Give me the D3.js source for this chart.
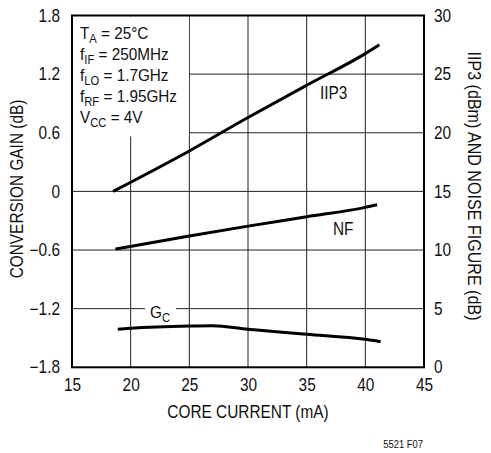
<!DOCTYPE html>
<html>
<head>
<meta charset="utf-8">
<script src="https://cdn.jsdelivr.net/npm/d3@7"></script>
<style>
  body { margin: 0; background: #fff; }
  svg text { font-family: "Liberation Sans", Arial, sans-serif; fill: #111; }
  .grid line { stroke: #222; stroke-width: 1; }
  .curve { fill: none; stroke: #000; stroke-width: 3; stroke-linecap: butt; }
</style>
</head>
<body>
<svg id="chart"></svg>
<script>
// data (core current in mA)
const iip3 = [
  { x: 18.5, y: 15.0 }, { x: 25, y: 18.45 }, { x: 30, y: 21.3 },
  { x: 35, y: 24.05 }, { x: 40, y: 26.75 }, { x: 41.2, y: 27.5 },
];
const noiseFigure = [
  { x: 18.7, y: 10.08 }, { x: 25, y: 11.19 }, { x: 30, y: 12.04 },
  { x: 35, y: 12.84 }, { x: 40, y: 13.64 }, { x: 41.0, y: 13.86 },
];
// conversion gain, left axis (dB)
const convGain = [
  { x: 18.9, y: -1.411 }, { x: 20, y: -1.401 }, { x: 25, y: -1.378 },
  { x: 27, y: -1.375 }, { x: 30, y: -1.411 }, { x: 35, y: -1.462 },
  { x: 40, y: -1.514 }, { x: 41.3, y: -1.538 },
];

const xTicks = [15, 20, 25, 30, 35, 40, 45];
const leftTicks = [1.8, 1.2, 0.6, 0, -0.6, -1.2, -1.8];
const leftLabels = ['1.8', '1.2', '0.6', '0', '\u22120.6', '\u22121.2', '\u22121.8'];
const rightTicks = [30, 25, 20, 15, 10, 5, 0];

const conditions = [
  ['T', 'A', ' = 25°C'],
  ['f', 'IF', ' = 250MHz'],
  ['f', 'LO', ' = 1.7GHz'],
  ['f', 'RF', ' = 1.95GHz'],
  ['V', 'CC', ' = 4V'],
];

const width = 491;
const height = 453;
const plot = { left: 72, right: 424, top: 15.5, bottom: 367.3 };
const fs = 17.5;      // main font size
const sq = 0.88;      // horizontal squeeze to mimic the narrow face

const svg = d3.select('#chart').attr('width', width).attr('height', height);

// text helper: narrow text placed by transform
function label(x, y, str, opts = {}) {
  const rot = opts.rotate ? ` rotate(${opts.rotate})` : '';
  return svg.append('text')
    .attr('transform', `translate(${x},${y})${rot} scale(${opts.sq || sq},1)`)
    .attr('text-anchor', opts.anchor || 'start')
    .attr('font-size', opts.size || fs)
    .text(str);
}

const xScale = d3.scaleLinear().domain([15, 45]).range([plot.left, plot.right]);
const yLeft = d3.scaleLinear().domain([-1.8, 1.8]).range([plot.bottom, plot.top]);
const yRight = d3.scaleLinear().domain([0, 30]).range([plot.bottom, plot.top]);

// grid
const grid = svg.append('g').attr('class', 'grid');
grid.selectAll('.vx')
  .data(xTicks.slice(1, -1))
  .join('line')
  .attr('x1', d => xScale(d)).attr('x2', d => xScale(d))
  .attr('y1', plot.top).attr('y2', plot.bottom);
grid.selectAll('.hy')
  .data(leftTicks.slice(1, -1))
  .join('line')
  .attr('y1', d => yLeft(d)).attr('y2', d => yLeft(d))
  .attr('x1', plot.left).attr('x2', plot.right);

// axes (labels only, no tick marks)
const xAxis = d3.axisBottom(xScale).tickValues(xTicks).tickSize(0).tickPadding(11);
svg.append('g')
  .attr('transform', `translate(0,${plot.bottom})`)
  .call(xAxis)
  .call(g => g.select('.domain').remove())
  .selectAll('text')
  .attr('font-size', fs).attr('transform', `scale(${sq},1)`);

const leftAxis = d3.axisLeft(yLeft).tickValues(leftTicks)
  .tickFormat((d, i) => leftLabels[i]).tickSize(0);
svg.append('g')
  .attr('transform', `translate(${plot.left},0)`)
  .call(leftAxis)
  .call(g => g.select('.domain').remove())
  .selectAll('text')
  .attr('font-size', fs).attr('x', -12 / sq).attr('transform', `scale(${sq},1)`);

const rightAxis = d3.axisRight(yRight).tickValues(rightTicks).tickSize(0);
svg.append('g')
  .attr('transform', `translate(${plot.right},0)`)
  .call(rightAxis)
  .call(g => g.select('.domain').remove())
  .selectAll('text')
  .attr('font-size', fs).attr('x', 10 / sq).attr('transform', `scale(${sq},1)`);

svg.selectAll('.tick text').attr('fill', '#111').style('font-family', null);

// white box behind conditions text
svg.append('rect')
  .attr('x', plot.left + 1).attr('y', plot.top + 1)
  .attr('width', 116).attr('height', 120)
  .attr('fill', '#fff');

conditions.forEach((c, i) => {
  const t = label(80, 39 + i * 21, c[0], { size: 17, sq: 0.9 });
  t.append('tspan').attr('font-size', 12.5).attr('dy', 3.5).text(c[1]);
  t.append('tspan').attr('dy', -3.5).text(c[2]);
});

// curves
const lineRight = d3.line().x(d => xScale(d.x)).y(d => yRight(d.y)).curve(d3.curveMonotoneX);
const lineLeft = d3.line().x(d => xScale(d.x)).y(d => yLeft(d.y)).curve(d3.curveMonotoneX);

svg.append('path').datum(iip3).attr('class', 'curve').attr('d', lineRight);
svg.append('path').datum(noiseFigure).attr('class', 'curve').attr('d', lineRight);

// Gc label sits on a white patch over the gridline
svg.append('rect').attr('x', 145).attr('y', 300).attr('width', 31).attr('height', 22).attr('fill', '#fff');
const gc = label(150, 318, 'G', { size: 17, sq: 0.9 });
gc.append('tspan').attr('font-size', 12.5).attr('dy', 3.5).text('C');

svg.append('path').datum(convGain).attr('class', 'curve').attr('d', lineLeft);

label(320, 99, 'IIP3');
label(333, 235, 'NF');

// frame
svg.append('rect')
  .attr('x', plot.left).attr('y', plot.top)
  .attr('width', plot.right - plot.left).attr('height', plot.bottom - plot.top)
  .attr('fill', 'none').attr('stroke', '#000').attr('stroke-width', 2);

// axis titles
label((plot.left + plot.right) / 2, 418, 'CORE CURRENT (mA)', { anchor: 'middle' });
label(23, 189, 'CONVERSION GAIN (dB)', { anchor: 'middle', rotate: -90 });
label(468, 186, 'IIP3 (dBm) AND NOISE FIGURE (dB)', { anchor: 'middle', rotate: 90, sq: 0.92 });
label(423, 448, '5521 F07', { anchor: 'end', size: 11.5, sq: 0.82 });
</script>
</body>
</html>
